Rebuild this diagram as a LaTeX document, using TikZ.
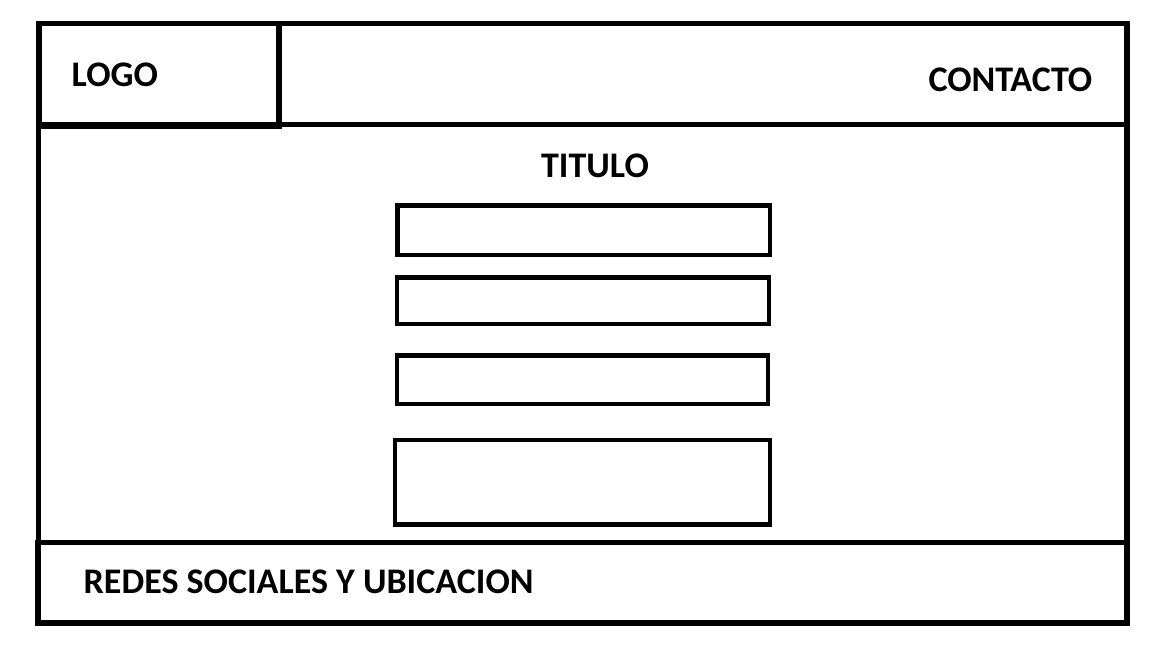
\documentclass[tikz,border=0pt]{standalone}
\usepackage{fontspec}
\setmainfont{Carlito}
\usepackage{tikz}
\usetikzlibrary{positioning}
\tikzset{every picture/.append style={thick}}

\begin{document}
\begin{tikzpicture}[x=0.02cm, y=-0.02cm,
    frame/.style={line width=3.4pt, line join=miter},
    field/.style={line width=2.8pt},
    label/.style={font=\fontsize{20.5}{24}\selectfont\bfseries, inner sep=0pt}]
    % Page size
    \useasboundingbox (0,0) rectangle (1152,648);

    % Header
    \draw[frame] (39,23.5) rectangle (1126.5,124.5);
    \draw[frame] (39,23.5) rectangle (279,126.5);
    \node[label, anchor=base west] (logo) at (71,87) {LOGO};
    \node[label, anchor=base east] (contacto) at (1093,92) {CONTACTO};

    % Body sides
    \draw[frame] (38.5,124.5) -- (38.5,542.5);
    \draw[frame] (1126.5,124.5) -- (1126.5,542.5);

    % Title and form fields
    \node[label, anchor=base] (titulo) at (595,178) {TITULO};
    \draw[field] (397.5,205.5) rectangle (770,255);
    \draw[field] (397,277.5) rectangle (769,324);
    \draw[field] (397,355.5) rectangle (768,404);
    \draw[field] (395,440) rectangle (770,524.5);

    % Footer
    \draw[frame] (38,542.5) rectangle (1127,623);
    \node[label, anchor=base west] (redes) at (83,593) {REDES SOCIALES Y UBICACION};
\end{tikzpicture}
\end{document}
